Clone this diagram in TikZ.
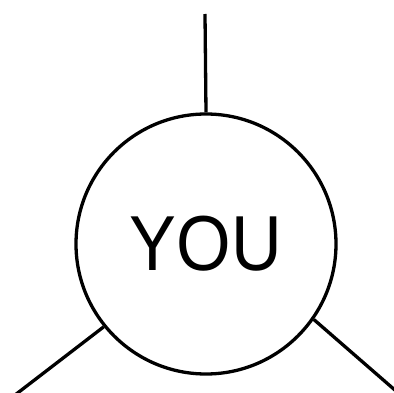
\documentclass[tikz,border=0pt]{standalone}
\usepackage{fontspec}
\setmainfont{Liberation Sans}
\begin{document}
\begin{tikzpicture}[x=1pt,y=-1pt,
  youcircle/.style={draw, circle, line width=3.3pt, inner sep=0pt, minimum size=260pt, font=\fontsize{78}{80}\selectfont},
  link/.style={line width=3.3pt}]
\useasboundingbox (0,0) rectangle (394,393);
\node[youcircle] (you) at (206,244) {\scalebox{0.9}[1]{YOU}};
\coordinate (top) at (205,14);
\coordinate (bl) at (15,395);
\coordinate (br) at (396,391);
\draw[link] (you.north) -- (top);
\draw[link] (you.219) -- (bl);
\draw[link] (you.-35) -- (br);
\end{tikzpicture}
\end{document}
